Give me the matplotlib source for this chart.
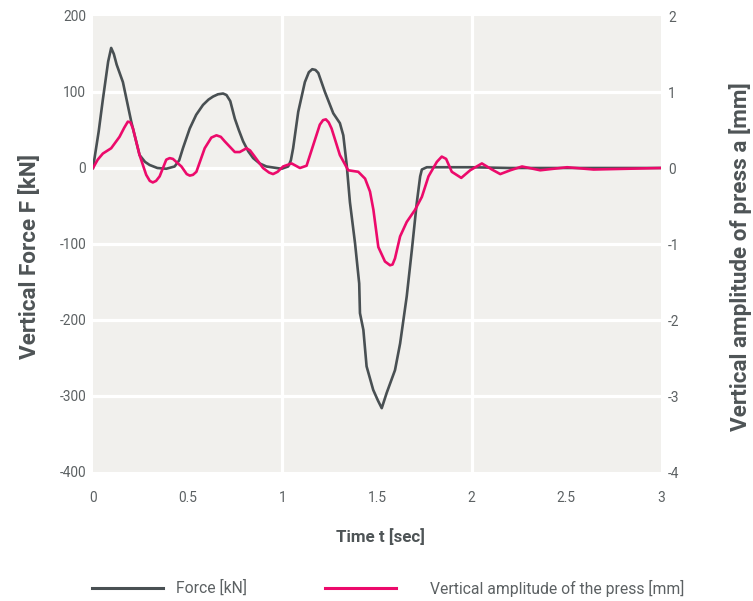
import matplotlib
matplotlib.use("Agg")
import matplotlib.pyplot as plt
from matplotlib import font_manager

# force curve (left axis, kN)
force_t = [0, 0.03, 0.052, 0.08, 0.096, 0.11, 0.125, 0.158, 0.202, 0.246,
           0.275, 0.299, 0.34, 0.387, 0.431, 0.455, 0.475, 0.511, 0.545, 0.581,
           0.61, 0.634, 0.66, 0.687, 0.705, 0.725, 0.749, 0.77, 0.793, 0.82,
           0.846, 0.88, 0.916, 0.996, 1.031, 1.045, 1.057, 1.084, 1.119, 1.14,
           1.158, 1.175, 1.19, 1.225, 1.269, 1.304, 1.322, 1.34, 1.357, 1.384,
           1.406, 1.41, 1.428, 1.445, 1.48, 1.505, 1.525, 1.551, 1.595, 1.622,
           1.657, 1.684, 1.71, 1.728, 1.737, 1.763, 2.0, 2.2, 3.0]
force = [0, 48, 90, 140, 158, 150, 136, 113, 61, 17,
         8, 4, 0, -1, 2, 10, 26, 52, 70, 83,
         90, 94, 97, 98, 96, 88, 65, 50, 35, 22,
         13, 6, 2, -1, 2, 10, 26, 74, 113, 126,
         130, 129, 125, 100, 72, 59, 43, 4, -45, -99,
         -152, -191, -213, -261, -292, -306, -316, -296, -266, -231,
         -169, -108, -46, -11, -2, 1, 1, 0, 0]

# press amplitude (right axis, mm)
amp_t = [0, 0.025, 0.052, 0.096, 0.14, 0.165, 0.184, 0.198, 0.211, 0.246,
         0.281, 0.30, 0.316, 0.333, 0.352, 0.387, 0.405, 0.422, 0.467, 0.495,
         0.511, 0.528, 0.546, 0.59, 0.625, 0.652, 0.675, 0.696, 0.749, 0.775,
         0.811, 0.83, 0.854, 0.898, 0.93, 0.951, 0.975, 1.004, 1.049, 1.093,
         1.128, 1.163, 1.198, 1.215, 1.23, 1.245, 1.26, 1.304, 1.348, 1.401,
         1.437, 1.463, 1.481, 1.507, 1.542, 1.569, 1.582, 1.595, 1.622, 1.657,
         1.701, 1.737, 1.772, 1.816, 1.842, 1.865, 1.895, 1.945, 1.992, 2.054,
         2.107, 2.151, 2.204, 2.266, 2.362, 2.504, 2.644, 3.0]
amp = [0, 0.11, 0.19, 0.26, 0.41, 0.53, 0.61, 0.6, 0.52, 0.17,
       -0.09, -0.17, -0.19, -0.17, -0.11, 0.11, 0.13, 0.12, 0.02, -0.08,
       -0.10, -0.09, -0.05, 0.26, 0.40, 0.43, 0.41, 0.35, 0.21, 0.21,
       0.26, 0.23, 0.15, 0.0, -0.06, -0.08, -0.05, 0.02, 0.06, 0.0,
       0.03, 0.30, 0.57, 0.63, 0.64, 0.6, 0.52, 0.17, -0.03, -0.05,
       -0.14, -0.31, -0.55, -1.04, -1.23, -1.28, -1.27, -1.19, -0.90, -0.71,
       -0.55, -0.38, -0.11, 0.08, 0.15, 0.12, -0.05, -0.13, -0.03, 0.06,
       -0.02, -0.08, -0.03, 0.02, -0.03, 0.01, -0.02, 0.0]

x_ticks = [0, 0.5, 1, 1.5, 2, 2.5, 3]
x_tick_labels = ["0", "0.5", "1", "1.5", "2", "2.5", "3"]
left_ticks = [-400, -300, -200, -100, 0, 100, 200]
right_ticks = [-4, -3, -2, -1, 0, 1, 2]

GRAY = "#495053"
PINK = "#ec0a6b"
BG = "#f1f0ed"
TICK_COLOR = "#5c6163"
LABEL_COLOR = "#4e5456"

# narrow font if there is one, otherwise Roboto a bit smaller
names = {f.name for f in font_manager.fontManager.ttflist}
if "Liberation Sans Narrow" in names:
    font = "Liberation Sans Narrow"
    k = 1.0
else:
    font = "Roboto"
    k = 0.9
plt.rcParams["font.family"] = [font, "DejaVu Sans"]
plt.rcParams["axes.unicode_minus"] = False

fig = plt.figure(figsize=(7.53, 6.01), dpi=100)
ax = fig.add_axes([93 / 753, 1 - 472 / 601, 568 / 753, 456 / 601])
ax.set_facecolor(BG)
for s in ax.spines.values():
    s.set_visible(False)

for v in [-300, -200, -100, 0, 100]:
    ax.axhline(v, color="white", lw=2.3, zorder=0.5)
for v in [1, 2]:
    ax.axvline(v, color="white", lw=2.3, zorder=0.5)

line1, = ax.plot(force_t, force, color=GRAY, lw=1.9, solid_joinstyle="round",
                 label="Force [kN]")
ax.set_xlim(0, 3)
ax.set_ylim(-400, 200)
ax.set_xticks(x_ticks)
ax.set_xticklabels(x_tick_labels)
ax.set_yticks(left_ticks)
ax.tick_params(axis="both", length=0, labelsize=11 * k, colors=TICK_COLOR)
ax.tick_params(axis="x", pad=14)
ax.tick_params(axis="y", pad=5)

ax2 = ax.twinx()
for s in ax2.spines.values():
    s.set_visible(False)
line2, = ax2.plot(amp_t, amp, color=PINK, lw=1.9, solid_joinstyle="round",
                  label="Vertical amplitude of the press [mm]")
ax2.set_ylim(-4, 2)
ax2.set_yticks(right_ticks)
ax2.tick_params(axis="y", length=0, labelsize=11 * k, colors=TICK_COLOR, pad=5)

fig.text(30 / 753, 1 - 256 / 601, "Vertical Force F [kN]", rotation=90,
         ha="center", va="center", fontsize=18 * k, fontweight="bold",
         color=LABEL_COLOR)
fig.text(741 / 753, 1 - 257 / 601, "Vertical amplitude of press a [mm]",
         rotation=90, ha="center", va="center", fontsize=18 * k,
         fontweight="bold", color=LABEL_COLOR)
fig.text(380 / 753, 1 - 537 / 601, "Time t [sec]", ha="center", va="center",
         fontsize=13.5 * k, fontweight="bold", color=LABEL_COLOR)

# two separate legend entries so each gap can be set on its own
leg_size = 12.65 * k
for line, x0, pad in [(line1, 92, 0.8), (line2, 325, 2.15)]:
    leg = fig.legend([line], [line.get_label()], loc="center left",
                     bbox_to_anchor=(x0 / 753, 1 - 588 / 601), frameon=False,
                     fontsize=leg_size, handlelength=4.5, handletextpad=pad,
                     borderpad=0, borderaxespad=0)
    for t in leg.get_texts():
        t.set_color(TICK_COLOR)
    for h in leg.legend_handles:
        h.set_linewidth(2.2)

fig.savefig("out.png", dpi=100, facecolor="white")
